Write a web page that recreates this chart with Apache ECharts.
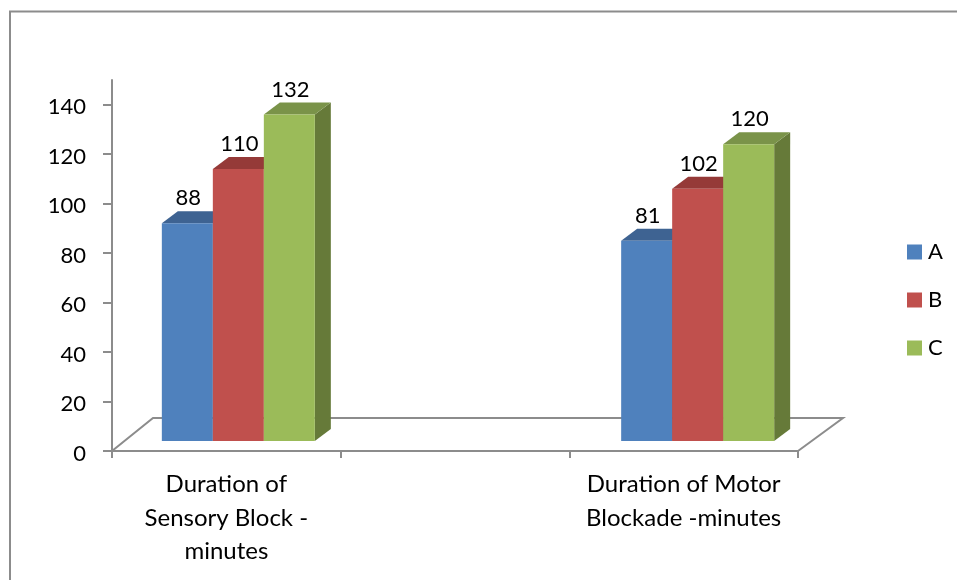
<!DOCTYPE html>
<html>
<head>
<meta charset="utf-8">
<style>
  html, body { margin: 0; padding: 0; background: #fff; }
  #chart { width: 957px; height: 580px; }
</style>
<script src="https://cdn.jsdelivr.net/npm/echarts@6/dist/echarts.min.js"></script>
</head>
<body>
<div id="chart"></div>
<script>
// middle category is empty on purpose, the original axis has three bands
var categories = ['Duration of\nSensory Block -\nminutes', '', 'Duration of Motor\nBlockade -minutes']
var seriesNames = ['A', 'B', 'C']
var valuesA = [88, null, 81]
var valuesB = [110, null, 102]
var valuesC = [132, null, 120]
var yTicks = [0, 20, 40, 60, 80, 100, 120, 140]

var FONT = 'Lato, "Open Sans", sans-serif'
var AXIS_COLOR = '#8c8c8c'
var BAR_W = 51
var DEPTH_X = 16
var DEPTH_Y = 12
var colors = [
  { front: '#4f81bd', top: '#3e6392', side: '#3a5c87' },
  { front: '#c0504d', top: '#953a38', side: '#8a3634' },
  { front: '#9bbb59', top: '#7a9349', side: '#667a39' }
]

// one bar drawn as front, top and side faces
function bar3d(idx) {
  return function (params, api) {
    var val = api.value(1)
    if (isNaN(val)) return
    var c = colors[idx]
    var base = api.coord([api.value(0), 0])
    var top = api.coord([api.value(0), val])
    var x0 = base[0] + 12 + api.value(0) + (idx - 1.5) * BAR_W
    var x1 = x0 + BAR_W
    var yb = base[1] - 10
    var yt = top[1] - 10
    return {
      type: 'group',
      children: [
        {
          type: 'polygon',
          shape: { points: [[x1, yb], [x1 + DEPTH_X, yb - DEPTH_Y], [x1 + DEPTH_X, yt - DEPTH_Y], [x1, yt]] },
          style: { fill: c.side }
        },
        {
          type: 'polygon',
          shape: { points: [[x0, yt], [x0 + DEPTH_X, yt - DEPTH_Y], [x1 + DEPTH_X, yt - DEPTH_Y], [x1, yt]] },
          style: { fill: c.top }
        },
        {
          type: 'rect',
          shape: { x: x0, y: yt, width: BAR_W, height: yb - yt },
          style: { fill: c.front }
        },
        {
          type: 'text',
          z2: 50,
          style: {
            text: String(val),
            x: (x0 + x1) / 2 + 1,
            y: yt - 25,
            align: 'center',
            verticalAlign: 'middle',
            fill: '#000',
            font: '22px ' + FONT
          }
        }
      ]
    }
  }
}

function makeSeries(name, values, idx) {
  return {
    name: name,
    type: 'custom',
    renderItem: bar3d(idx),
    itemStyle: { color: colors[idx].front },
    encode: { x: 0, y: 1 },
    clip: false,
    data: values.map(function (v, i) { return [i, v === null ? NaN : v] })
  }
}

var chart = echarts.init(document.getElementById('chart'))
chart.setOption({
  animation: false,
  backgroundColor: '#fff',
  textStyle: { fontFamily: FONT },
  grid: { left: 112, right: 159, top: 80, bottom: 129 },
  legend: {
    orient: 'vertical',
    left: 907,
    top: 241,
    padding: 0,
    icon: 'rect',
    itemWidth: 15,
    itemHeight: 15,
    itemGap: 26,
    data: seriesNames,
    textStyle: { fontFamily: FONT, fontSize: 22, color: '#000', padding: [0, 0, 0, 1] }
  },
  xAxis: {
    type: 'category',
    data: categories,
    axisLine: { lineStyle: { color: AXIS_COLOR, width: 2 } },
    axisTick: { show: true, length: 7, lineStyle: { color: AXIS_COLOR, width: 2 } },
    axisLabel: {
      interval: 0,
      margin: 17,
      color: '#000',
      fontSize: 24,
      lineHeight: 33.5,
      fontFamily: FONT,
      verticalAlign: 'top'
    }
  },
  yAxis: {
    type: 'value',
    min: 0,
    max: 150,
    axisLine: { show: true, lineStyle: { color: AXIS_COLOR, width: 2 } },
    axisTick: { show: true, length: 9, customValues: yTicks, lineStyle: { color: AXIS_COLOR, width: 2 } },
    // labels sit a little below their ticks in the original
    axisLabel: { margin: 26, color: '#000', fontSize: 22, fontFamily: FONT, customValues: yTicks, verticalAlign: 'top', lineHeight: 5 },
    splitLine: { show: false }
  },
  graphic: [
    {
      // outer chart border, only top and left survive in the crop
      type: 'polyline',
      silent: true,
      shape: { points: [[10, 580], [10, 11.5], [957, 11.5]] },
      style: { stroke: AXIS_COLOR, lineWidth: 2, fill: null }
    },
    {
      // 3d floor
      type: 'polyline',
      silent: true,
      shape: { points: [[112, 451], [153, 418], [843, 418], [798, 451]] },
      style: { stroke: AXIS_COLOR, lineWidth: 2, fill: null },
      z: -1
    }
  ],
  series: [
    makeSeries(seriesNames[0], valuesA, 0),
    makeSeries(seriesNames[1], valuesB, 1),
    makeSeries(seriesNames[2], valuesC, 2)
  ]
})
</script>
</body>
</html>
